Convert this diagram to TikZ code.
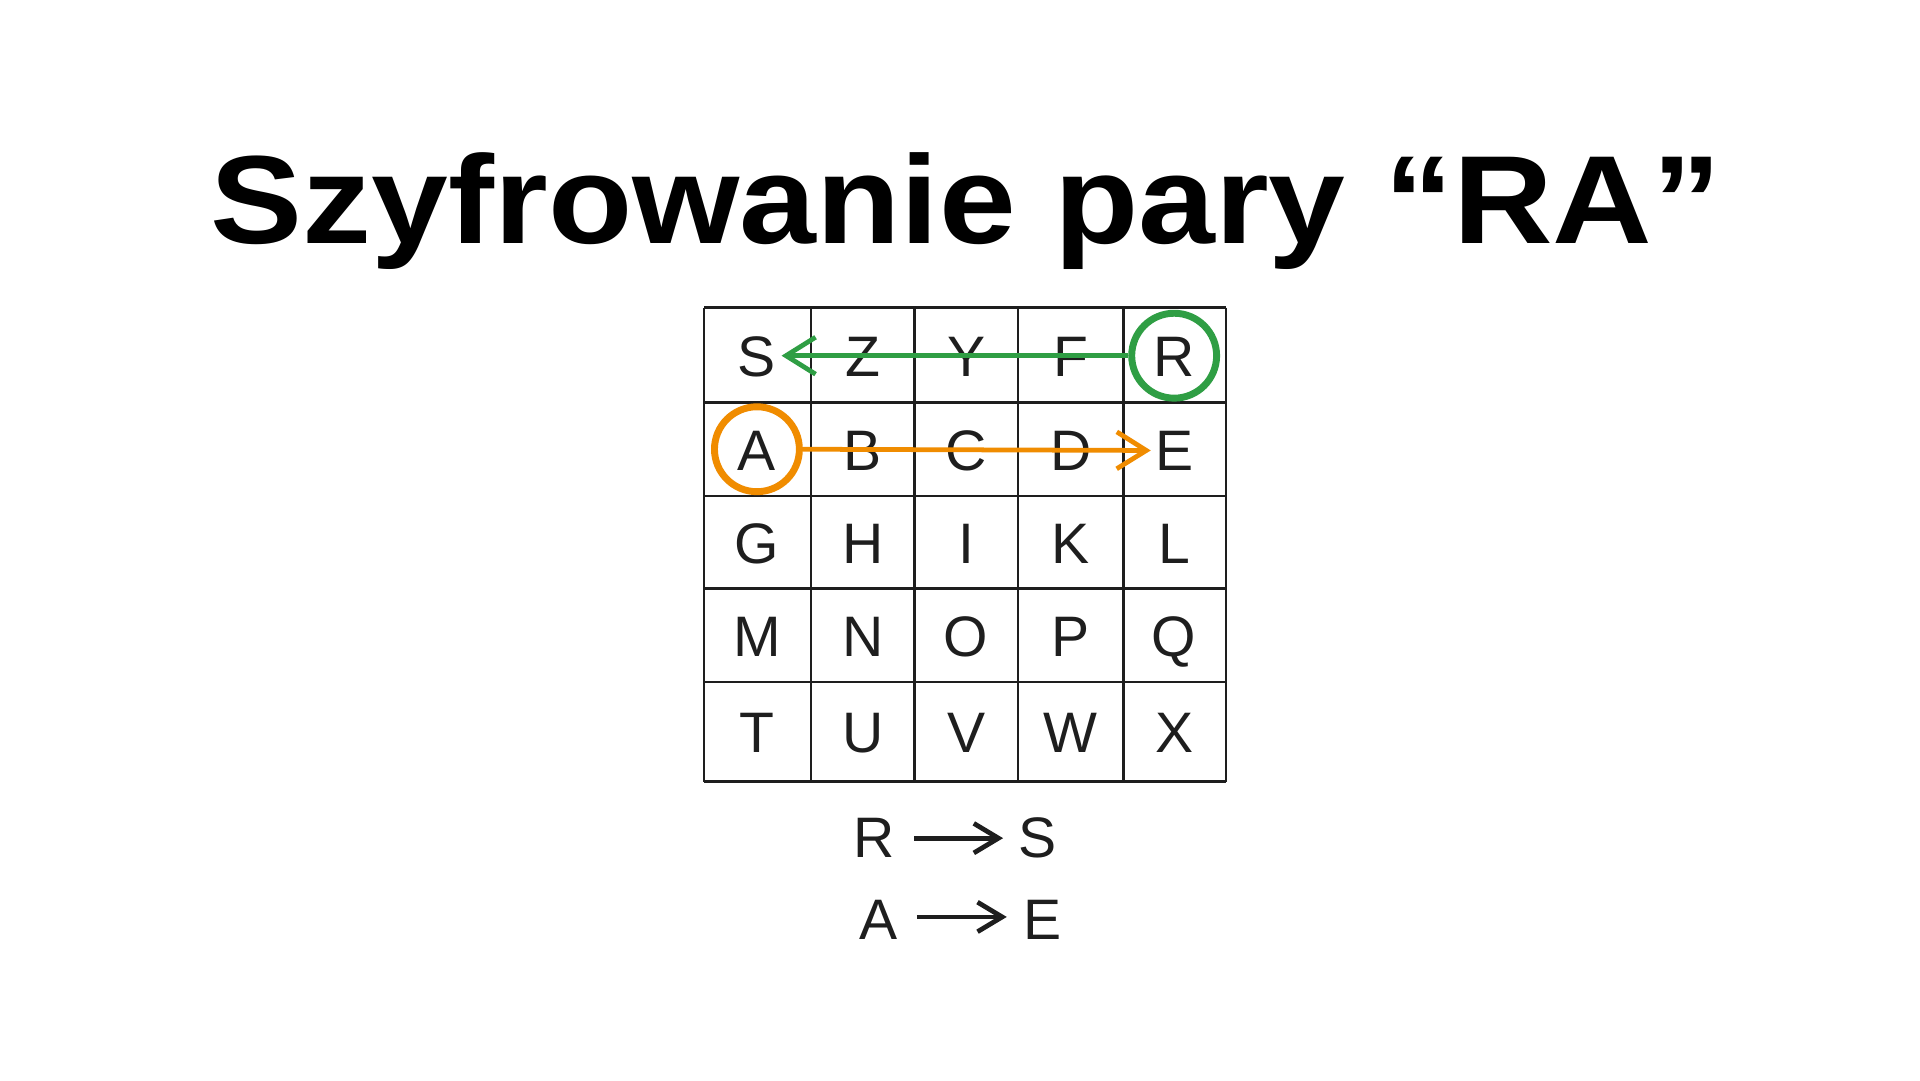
\documentclass[tikz,border=0pt]{standalone}
\usepackage{fontspec}
\setmainfont{Liberation Sans}
\usetikzlibrary{arrows.meta}
\definecolor{exgreen}{HTML}{2F9E44}
\definecolor{exorange}{HTML}{F08C00}
\definecolor{ink}{HTML}{1E1E1E}
\begin{document}
\begin{tikzpicture}[x=0.05cm,y=-0.05cm,
  letter/.style={font=\fontsize{66}{66}\selectfont, text=ink, inner sep=0pt, anchor=base},
  gridline/.style={draw=ink, line width=3pt},
  ring/.style={circle, draw, line width=8pt, minimum size=3.45cm, inner sep=0pt},
  colarrow/.style={line width=5.5pt, -{Straight Barb[length=1.2cm,width=1.5cm]}},
  maparrow/.style={draw=ink, line width=5.5pt, -{Straight Barb[length=1.0cm,width=1.2cm]}}
]
\useasboundingbox[fill=white] (0,0) rectangle (1560,877.5);
% title
\node[font=\fontsize{145}{145}\selectfont\bfseries, text=black, anchor=base, inner sep=0pt] (title) at (785,198) {\scalebox{1.1}[1]{Szyfrowanie pary “RA”}};
% grid
\foreach \x in {572,659,743,827,913,996} \draw[gridline] (\x,250) -- (\x,635);
\foreach \y in {250,327,403,478,554,635} \draw[gridline] (572,\y) -- (996,\y);
% letters
\node[letter] (S) at (615,306) {S};
\node[letter] (Z) at (701,306) {Z};
\node[letter] (Y) at (785,306) {Y};
\node[letter] (F) at (870,306) {F};
\node[letter] (R) at (954,306) {R};
\node[letter] (A) at (615,382) {A};
\node[letter] (B) at (701,382) {B};
\node[letter] (C) at (785,382) {C};
\node[letter] (D) at (870,382) {D};
\node[letter] (E) at (954,382) {E};
\node[letter] (G) at (615,458) {G};
\node[letter] (H) at (701,458) {H};
\node[letter] (I) at (785,458) {I};
\node[letter] (K) at (870,458) {K};
\node[letter] (L) at (954,458) {L};
\node[letter] (M) at (615,533) {M};
\node[letter] (N) at (701,533) {N};
\node[letter] (O) at (785,533) {O};
\node[letter] (P) at (870,533) {P};
\node[letter] (Q) at (954,533) {Q};
\node[letter] (T) at (615,611) {T};
\node[letter] (U) at (701,611) {U};
\node[letter] (V) at (785,611) {V};
\node[letter] (W) at (870,611) {W};
\node[letter] (X) at (954,611) {X};
% rings
\node[ring, draw=exgreen] (cR) at (954,289) {};
\node[ring, draw=exorange] (cA) at (615,365) {};
% arrows
\coordinate (eS) at (635,289);
\draw[exgreen, colarrow] (cR.west) -- (eS);
\coordinate (eA) at (935,366);
\draw[exorange, colarrow] (cA.east) -- (eA);
% mapping
\node[letter] (mR) at (710,697) {R};
\node[letter] (mS) at (843,697) {S};
\node[letter] (mA) at (714,763) {A};
\node[letter] (mE) at (847,763) {E};
\coordinate (r1) at (743,681);
\coordinate (r2) at (815,681);
\coordinate (a1) at (745,745);
\coordinate (a2) at (818,745);
\draw[maparrow] (r1) -- (r2);
\draw[maparrow] (a1) -- (a2);
\end{tikzpicture}
\end{document}
